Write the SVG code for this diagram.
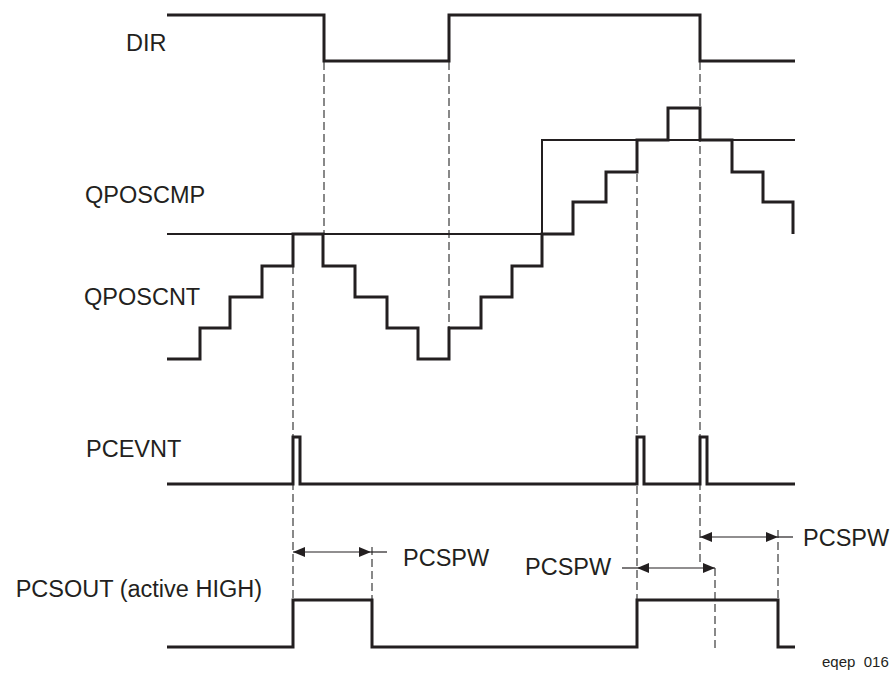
<svg xmlns="http://www.w3.org/2000/svg" width="892" height="677" viewBox="0 0 892 677">
<style>
  .sig { fill: none; stroke: #231f20; stroke-width: 3; stroke-linejoin: miter; stroke-linecap: butt; }
  .thin { fill: none; stroke: #231f20; stroke-width: 2; }
  .dash { fill: none; stroke: #3a3a3a; stroke-width: 1.2; stroke-dasharray: 8 4; }
  .dim { fill: none; stroke: #231f20; stroke-width: 1.2; }
  .lbl { font-family: "Liberation Sans", Arial, sans-serif; font-size: 23.5px; fill: #231f20; }
  .small { font-family: "Liberation Sans", Arial, sans-serif; font-size: 15px; fill: #231f20; }
</style>
<defs>
  <marker id="arr" viewBox="0 0 12 10" refX="12" refY="5" markerWidth="12" markerHeight="10" markerUnits="userSpaceOnUse" orient="auto-start-reverse">
    <path d="M0,0 L12,5 L0,10 z" fill="#231f20"/>
  </marker>
</defs>
<rect width="892" height="677" fill="#ffffff"/>

<g id="connectors">
  <line class="dash" x1="324" y1="62" x2="324" y2="234"/>
  <line class="dash" x1="449" y1="62" x2="449" y2="328"/>
  <line class="dash" x1="293" y1="266" x2="293" y2="600"/>
  <line class="dash" x1="637" y1="174" x2="637" y2="600"/>
  <line class="dash" x1="700" y1="62" x2="700" y2="562"/>
  <line class="dash" x1="715" y1="568" x2="715" y2="652"/>
  <line class="dash" x1="778" y1="530" x2="778" y2="600"/>
  <line class="dash" x1="372" y1="547" x2="372" y2="600"/>

  <g id="pcspw1">
    <line class="dim" x1="293" y1="552" x2="371" y2="552" marker-start="url(#arr)" marker-end="url(#arr)"/>
    <line class="dim" x1="371" y1="552" x2="387" y2="552"/>
    <text class="lbl" x="403" y="566">PCSPW</text>
  </g>
  <g id="pcspw2">
    <line class="dim" x1="637" y1="568" x2="715" y2="568" marker-start="url(#arr)" marker-end="url(#arr)"/>
    <line class="dim" x1="622" y1="568" x2="637" y2="568"/>
    <text class="lbl" x="525" y="575">PCSPW</text>
  </g>
  <g id="pcspw3">
    <line class="dim" x1="700" y1="537" x2="778" y2="537" marker-start="url(#arr)" marker-end="url(#arr)"/>
    <line class="dim" x1="778" y1="537" x2="793" y2="537"/>
    <text class="lbl" x="803" y="546">PCSPW</text>
  </g>
</g>

<g id="dir">
  <text class="lbl" x="126" y="51">DIR</text>
  <path class="sig" d="M167,15 H324 V61 H449 V15 H700 V61 H795"/>
</g>

<g id="qposcmp">
  <text class="lbl" x="85" y="203">QPOSCMP</text>
  <path class="thin" d="M167,234 H542 V140 H795"/>
</g>

<g id="qposcnt">
  <text class="lbl" x="84" y="305">QPOSCNT</text>
  <path class="sig" d="M167,359 H200 V328 H230 V297 H262 V266 H293 V234 H323 V266 H355 V297 H387 V328 H418 V359 H449 V328 H481 V297 H512 V266 H542 V234 H573 V202 H606 V172 H637 V140 H668 V108 H700 V140 H732 V172 H763 V202 H793 V234"/>
</g>

<g id="pcevnt">
  <text class="lbl" x="86" y="457">PCEVNT</text>
  <path class="sig" d="M167,484 H293 V437 H300 V484 H637 V437 H644 V484 H700 V437 H707 V484 H795"/>
</g>

<g id="pcsout">
  <text class="lbl" x="262" y="597" text-anchor="end">PCSOUT (active HIGH)</text>
  <path class="sig" d="M167,647 H293 V600 H372 V647 H637 V600 H778 V647 H795"/>
</g>

<text class="small" x="822" y="667" xml:space="preserve">eqep  016</text>
</svg>
